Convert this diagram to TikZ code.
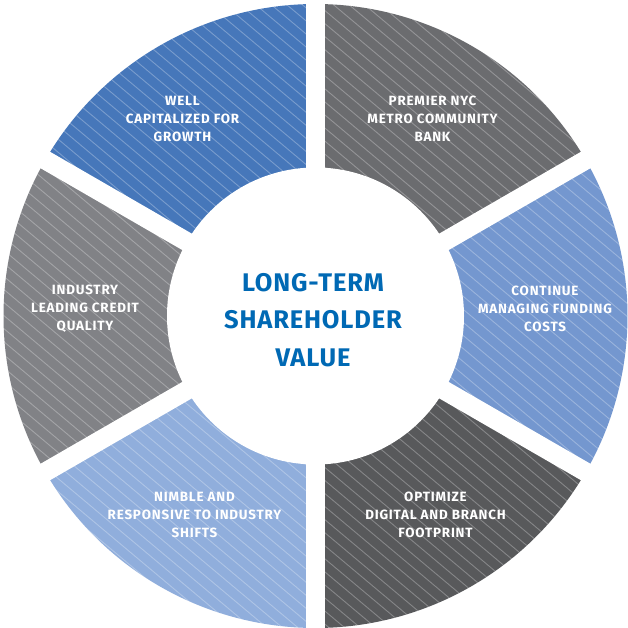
\documentclass[tikz,border=0pt]{standalone}
\usepackage{fontspec}
\setmainfont{Fira Sans}
\newfontfamily\seglabfont[LetterSpace=6]{Fira Sans}
\newfontfamily\cenlabfont[LetterSpace=3.3]{Fira Sans}
\definecolor{cTL}{HTML}{4677BA}
\definecolor{cTR}{HTML}{6B6C6F}
\definecolor{cR}{HTML}{7497CF}
\definecolor{cBR}{HTML}{58595B}
\definecolor{cBL}{HTML}{90AEDC}
\definecolor{cL}{HTML}{818286}
\definecolor{cTxt}{HTML}{0069B4}
\tikzset{
  seglabel/.style={text=white,font=\seglabfont\bfseries\fontsize{13.4}{18}\selectfont,align=center,inner sep=0pt},
  centerlabel/.style={text=cTxt,font=\cenlabfont\bfseries\fontsize{25.5}{37.5}\selectfont,align=center,inner sep=0pt},
  stripe/.style={white,opacity=0.28,line width=0.9pt},
  gapline/.style={white,line width=19pt},
}
\begin{document}
\begin{tikzpicture}[x=1pt,y=1pt]
\useasboundingbox (-315.5,-312) rectangle (312.5,316);
\fill[white] (-315.5,-312) rectangle (312.5,316);
\def\Ro{312}
\def\Ri{148.5}
% sectors
\fill[cTR] (0,0) -- (30:\Ro) arc (30:90:\Ro) -- cycle;
\fill[cR]  (0,0) -- (-30:\Ro) arc (-30:30:\Ro) -- cycle;
\fill[cBR] (0,0) -- (-90:\Ro) arc (-90:-30:\Ro) -- cycle;
\fill[cBL] (0,0) -- (-150:\Ro) arc (-150:-90:\Ro) -- cycle;
\fill[cL]  (0,0) -- (150:\Ro) arc (150:210:\Ro) -- cycle;
\fill[cTL] (0,0) -- (90:\Ro) arc (90:150:\Ro) -- cycle;
% stripes
\begin{scope}
  \clip (0,0) circle (\Ro);
  \begin{scope}[rotate=-40]
    \foreach \k in {-33,...,33} \draw[stripe] (-340,\k*10) -- (340,\k*10);
  \end{scope}
\end{scope}
% gaps and hub
\foreach \a in {90,30,-30,-90,-150,150} \draw[gapline] (0,0) -- (\a:330);
\fill[white] (0,0) circle (\Ri);
% labels
\node[centerlabel] (center) at (-2.5,-4) {LONG-TERM\\SHAREHOLDER\\VALUE};
\node[seglabel] (tl) at (-133,197) {WELL\\CAPITALIZED FOR\\GROWTH};
\node[seglabel] (tr) at (117,197) {PREMIER NYC\\METRO COMMUNITY\\BANK};
\node[seglabel] (r) at (229.5,7) {CONTINUE\\MANAGING FUNDING\\COSTS};
\node[seglabel] (l) at (-230.5,7) {INDUSTRY\\LEADING CREDIT\\QUALITY};
\node[seglabel] (bl) at (-121,-199) {NIMBLE AND\\RESPONSIVE TO INDUSTRY\\SHIFTS};
\node[seglabel] (br) at (120,-199) {OPTIMIZE\\DIGITAL AND BRANCH\\FOOTPRINT};
\end{tikzpicture}
\end{document}
